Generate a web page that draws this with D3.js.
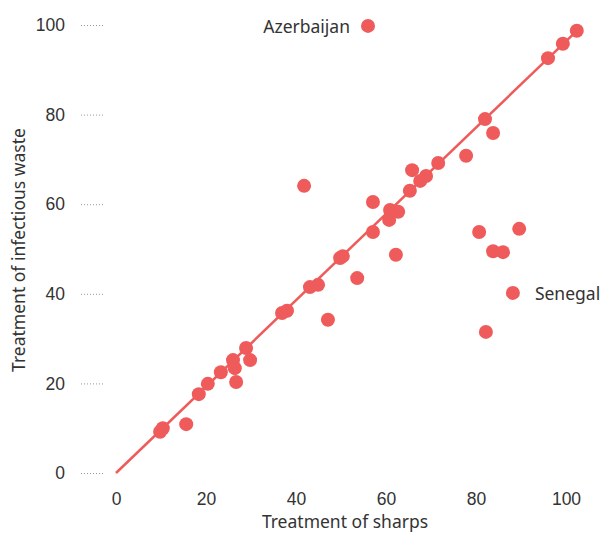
<!DOCTYPE html>
<html>
<head>
<meta charset="utf-8">
<script src="https://cdn.jsdelivr.net/npm/d3@7"></script>
<style>
  body { margin: 0; background: #fff; }
  svg { font-family: "Noto Sans", sans-serif; }
  .tick text { fill: #333; font-size: 17.5px; }
  .axis-title { fill: #333; font-size: 17.5px; }
  .note { fill: #333; font-size: 17.5px; }
</style>
</head>
<body>
<svg id="chart" width="600" height="533"></svg>
<script>
// health-care facilities: share treating sharps vs infectious waste (%)
var sharps = [9.8, 10.4, 15.6, 18.4, 20.4, 23.3, 26.0, 26.4, 26.7, 28.9,
              29.8, 36.9, 38.0, 41.8, 43.1, 44.9, 47.1, 49.8, 50.4, 53.6,
              57.1, 57.1, 60.7, 60.9, 62.7, 62.2, 65.3, 65.8, 67.6, 68.9,
              71.6, 77.8, 80.7, 82.0, 83.8, 82.2, 83.8, 86.0, 88.2, 89.6,
              96.0, 99.3, 102.4, 56.0];
var infectious = [9.2, 10.0, 10.9, 17.6, 19.9, 22.5, 25.2, 23.4, 20.3, 27.9,
                  25.2, 35.7, 36.2, 64.1, 41.5, 42.0, 34.2, 48.0, 48.4, 43.5,
                  53.8, 60.5, 56.5, 58.7, 58.3, 48.7, 63.0, 67.6, 65.2, 66.3,
                  69.2, 70.8, 53.8, 79.0, 75.9, 31.5, 49.5, 49.3, 40.2, 54.5,
                  92.6, 95.8, 98.7, 99.8];
var names = [];
names[38] = "Senegal";
names[43] = "Azerbaijan";

var fitX = [0, 102.4];
var fitY = [0, 98.7];
var ticks = [0, 20, 40, 60, 80, 100];

var red = "#ef5b5b";

var svg = d3.select("#chart");

var x = d3.scaleLinear().domain([0, 100]).range([116, 566]);
var y = d3.scaleLinear().domain([0, 100]).range([473, 25]);

// y axis: labels with short dotted stubs
var yaxis = svg.append("g")
    .attr("transform", "translate(103,0)")
    .call(d3.axisLeft(y).tickValues(ticks).tickSize(24).tickPadding(14));
yaxis.select(".domain").remove();
yaxis.selectAll(".tick line")
    .attr("stroke", "#999")
    .attr("stroke-dasharray", "1,2");

// x axis: labels only
var xaxis = svg.append("g")
    .attr("transform", "translate(0,485)")
    .call(d3.axisBottom(x).tickValues(ticks).tickSize(0).tickPadding(8));
xaxis.select(".domain").remove();

svg.append("text")
    .attr("class", "axis-title")
    .attr("text-anchor", "middle")
    .attr("x", 345)
    .attr("y", 528)
    .text("Treatment of sharps");

svg.append("text")
    .attr("class", "axis-title")
    .attr("text-anchor", "middle")
    .attr("transform", "translate(25,250) rotate(-90)")
    .text("Treatment of infectious waste");

// fit line
svg.append("line")
    .attr("x1", x(fitX[0])).attr("y1", y(fitY[0]))
    .attr("x2", x(fitX[1])).attr("y2", y(fitY[1]))
    .attr("stroke", red)
    .attr("stroke-width", 2.5);

var pts = sharps.map(function (d, i) {
    return { sx: d, iy: infectious[i], name: names[i] };
});

svg.append("g").selectAll("circle")
    .data(pts)
    .enter().append("circle")
    .attr("cx", function (d) { return x(d.sx); })
    .attr("cy", function (d) { return y(d.iy); })
    .attr("r", 7)
    .attr("fill", red);

svg.append("g").selectAll("text")
    .data(pts.filter(function (d) { return d.name; }))
    .enter().append("text")
    .attr("class", "note")
    .attr("dominant-baseline", "central")
    .attr("text-anchor", function (d) { return d.name == "Azerbaijan" ? "end" : "start"; })
    .attr("x", function (d) { return d.name == "Azerbaijan" ? x(d.sx) - 18 : x(d.sx) + 22; })
    .attr("y", function (d) { return y(d.iy); })
    .text(function (d) { return d.name; });
</script>
</body>
</html>
